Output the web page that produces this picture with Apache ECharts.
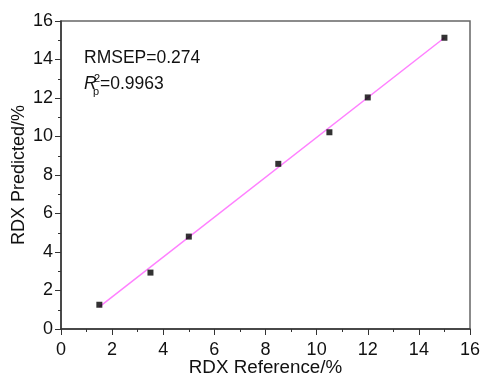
<!DOCTYPE html>
<html>
<head>
<meta charset="utf-8">
<script src="https://cdn.jsdelivr.net/npm/echarts@6/dist/echarts.min.js"></script>
<style>
  html, body { margin: 0; padding: 0; background: #fff; }
  #chart { width: 483px; height: 375px; }
</style>
</head>
<body>
<div id="chart"></div>
<script>
// measured RDX contents (%)
var reference = [1.5, 3.5, 5, 8.5, 10.5, 12, 15];
var predicted = [1.26, 2.93, 4.8, 8.58, 10.22, 12.03, 15.13];
// fitted line end points
var fitX = [1.5, 15];
var fitY = [1.15, 15.13];

var font = 'Liberation Sans, Arial, sans-serif';

var points = [];
for (var i = 0; i < reference.length; i++) {
    points.push([reference[i], predicted[i]]);
}
var fitLine = [];
for (var j = 0; j < fitX.length; j++) {
    fitLine.push([fitX[j], fitY[j]]);
}

function axis(name, gap, margin, nameSize) {
    return {
        type: 'value',
        min: 0,
        max: 16,
        interval: 2,
        name: name,
        nameLocation: 'middle',
        nameGap: gap,
        nameMoveOverlap: false,
        nameTextStyle: { fontFamily: font, fontSize: nameSize, color: '#111' },
        axisLine: { show: true, lineStyle: { color: '#333', width: 1.5 } },
        axisTick: { show: true, inside: false, length: 6, lineStyle: { color: '#333' } },
        minorTick: { show: true, splitNumber: 2, length: 3, lineStyle: { color: '#333' } },
        splitLine: { show: false },
        axisLabel: { fontFamily: font, fontSize: 18, color: '#111', margin: margin }
    };
}

var chart = echarts.init(document.getElementById('chart'));
chart.setOption({
    animation: false,
    backgroundColor: '#fff',
    grid: {
        left: 61,
        right: 13,
        top: 21,
        bottom: 46,
        outerBoundsMode: 'none',
        containLabel: false,
        show: true,
        borderColor: '#666',
        borderWidth: 1.5,
        backgroundColor: 'transparent'
    },
    xAxis: axis('RDX Reference/%', 29, 12, 18.8),
    yAxis: axis('RDX Predicted/%', 33, 8, 18),
    series: [{
        type: 'line',
        data: fitLine,
        symbol: 'none',
        lineStyle: { color: '#ff80ff', width: 1.5 },
        z: 2
    }, {
        type: 'scatter',
        data: points,
        symbol: 'rect',
        symbolSize: 6,
        itemStyle: { color: '#000' },
        z: 3
    }],
    graphic: [
        { type: 'text', left: 84, top: 49, style: { text: 'RMSEP=0.274', font: '17.5px ' + font, fill: '#111' } },
        { type: 'text', left: 84, top: 75, style: { text: 'R', font: 'italic 17.5px ' + font, fill: '#111' } },
        { type: 'text', left: 94, top: 73, style: { text: '2', font: '11px ' + font, fill: '#111' } },
        { type: 'text', left: 93, top: 86, style: { text: 'p', font: '11px ' + font, fill: '#111' } },
        { type: 'text', left: 100, top: 75, style: { text: '=0.9963', font: '17.5px ' + font, fill: '#111' } }
    ]
});
</script>
</body>
</html>
